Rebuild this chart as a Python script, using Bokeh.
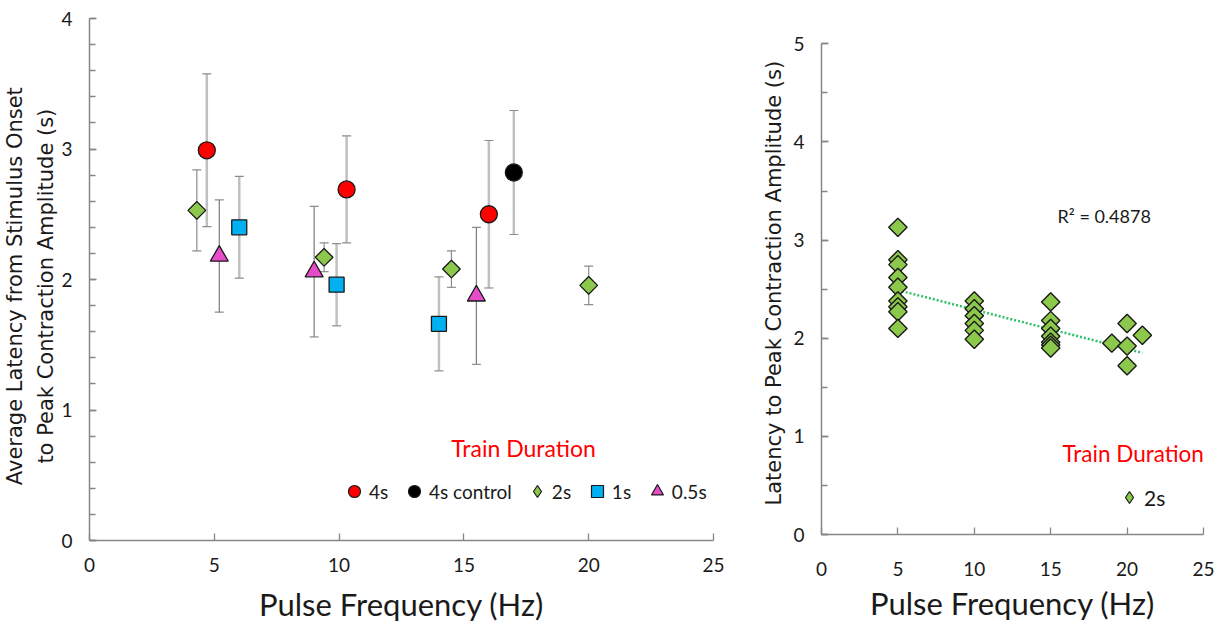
import numpy as np
from bokeh.plotting import figure
from bokeh.models import (ColumnDataSource, Whisker, TeeHead, Legend, LegendItem,
                          Label, FixedTicker, Range1d, SingleIntervalTicker)
from bokeh.layouts import row
from bokeh.embed import file_html
from bokeh.resources import INLINE

# ---------------- data: left panel (mean +/- SD) ----------------
freq_4s = [4.7, 10.3, 16.0]
lat_4s = [2.99, 2.69, 2.50]
sd_4s = [0.585, 0.41, 0.565]

freq_ctrl = [17.0]
lat_ctrl = [2.82]
sd_ctrl = [0.475]

freq_2s = [4.3, 9.4, 14.5, 20.0]
lat_2s = [2.53, 2.17, 2.08, 1.955]
sd_2s = [0.31, 0.11, 0.14, 0.147]

freq_1s = [6.0, 9.9, 14.0]
lat_1s = [2.40, 1.96, 1.66]
sd_1s = [0.39, 0.315, 0.36]

freq_05s = [5.2, 9.0, 15.5]
lat_05s = [2.18, 2.06, 1.875]
sd_05s = [0.43, 0.50, 0.525]

legend_labels = ["4s", "4s control", "2s", "1s", "0.5s"]
x_ticks = [0, 5, 10, 15, 20, 25]

# ---------------- data: right panel (2s trains) ----------------
r_freq = [5, 5, 5, 5, 5, 5, 5, 5, 5,
          10, 10, 10, 10, 10, 10,
          15, 15, 15, 15, 15, 15, 15,
          19, 20, 20, 20, 21]
r_lat = [3.13, 2.80, 2.75, 2.62, 2.52, 2.38, 2.32, 2.27, 2.10,
         2.38, 2.30, 2.23, 2.15, 2.08, 1.99,
         2.37, 2.18, 2.10, 2.02, 1.96, 1.93, 1.90,
         1.95, 2.15, 1.92, 1.72, 2.03]
r2_text = "R\u00b2 = 0.4878"

FONT = "Lato"
AXIS_COL = "#868686"
TXT_COL = "#1a1a1a"
GREEN = "#8cc84b"
NAN = float("nan")
PAD = "\u00a0\u00a0"   # nudges the rotated y titles slightly downward, as in the original


def style_axes(p, x_standoff, y_standoff, ylab_standoff, xlab_standoff):
    for ax in (p.xaxis[0], p.yaxis[0]):
        ax.axis_line_color = AXIS_COL
        ax.axis_line_width = 1.5
        ax.major_tick_line_color = AXIS_COL
        ax.major_tick_line_width = 1.3
        ax.minor_tick_line_color = AXIS_COL
        ax.minor_tick_line_width = 1.3
        ax.major_tick_in = 7
        ax.major_tick_out = 0
        ax.minor_tick_in = 6
        ax.minor_tick_out = 0
        ax.major_label_text_font = FONT
        ax.major_label_text_font_size = "19px"
        ax.major_label_text_color = TXT_COL
        ax.axis_label_text_color = TXT_COL
        ax.axis_label_text_font_style = "normal"
    p.xaxis[0].ticker = FixedTicker(ticks=x_ticks)
    p.xaxis[0].minor_tick_line_color = None
    p.xaxis[0].major_label_standoff = x_standoff
    p.xaxis[0].axis_label_text_font = FONT
    p.xaxis[0].axis_label_text_font_size = "31px"
    p.xaxis[0].axis_label_standoff = xlab_standoff
    p.yaxis[0].major_label_standoff = y_standoff
    p.yaxis[0].axis_label_text_font = "DejaVu Sans"
    p.yaxis[0].axis_label_text_font_size = "21px"
    p.yaxis[0].axis_label_text_line_height = 1.3
    p.yaxis[0].axis_label_standoff = ylab_standoff
    p.grid.visible = False
    p.outline_line_color = None


# ---------------- left figure ----------------
left = figure(frame_width=624, frame_height=522, output_backend="svg", toolbar_location=None,
              x_range=Range1d(0, 25), y_range=Range1d(0, 4),
              min_border_left=82, min_border_right=46, min_border_top=18, min_border_bottom=70,
              x_axis_label="Pulse Frequency (Hz)",
              y_axis_label="Average Latency from Stimulus Onset" + PAD +
                           "\nto Peak Contraction Amplitude (s)" + PAD)
style_axes(left, 17, 17, 0, 10)
left.yaxis[0].ticker = SingleIntervalTicker(interval=1, num_minor_ticks=5)

series = [
    (freq_4s, lat_4s, sd_4s, "circle", "#ff0000", 17, "#c0c0c0", 2.5, 0, "circle"),
    (freq_ctrl, lat_ctrl, sd_ctrl, "circle", "#000000", 17, "#c0c0c0", 2.5, 0, "circle"),
    (freq_2s, lat_2s, sd_2s, "square", GREEN, 12.5, "#8c8c8c", 1.2, np.pi / 4, "diamond"),
    (freq_1s, lat_1s, sd_1s, "square", "#00b0f0", 15, "#c0c0c0", 2.5, 0, "square"),
    (freq_05s, lat_05s, sd_05s, "triangle", "#e64bc8", 18, "#7a7a7a", 1.2, 0, "triangle"),
]

items = []
for (fx, fy, sd, mk, col, sz, ecol, ew, ang, lmk), lab in zip(series, legend_labels):
    src = ColumnDataSource(dict(x=fx, y=fy,
                                upper=[a + b for a, b in zip(fy, sd)],
                                lower=[a - b for a, b in zip(fy, sd)]))
    w = Whisker(source=src, base="x", upper="upper", lower="lower",
                line_color=ecol, line_width=ew, level="underlay",
                upper_head=TeeHead(size=9, line_color="#8c8c8c", line_width=1.2),
                lower_head=TeeHead(size=9, line_color="#8c8c8c", line_width=1.2))
    left.add_layout(w)
    left.scatter("x", "y", source=src, marker=mk, size=sz, angle=ang,
                 fill_color=col, line_color="#1a1a1a", line_width=1.3)
    # legend-only renderer (a NaN point is not drawn) so the legend shows the symbol
    lr = left.scatter(x=[NAN], y=[NAN], marker=lmk, fill_color=col,
                      line_color="#1a1a1a", line_width=1.2)
    items.append(LegendItem(label=lab, renderers=[lr]))

leg = Legend(items=items, orientation="horizontal", location=(250, 34),
             glyph_width=30, glyph_height=30, label_standoff=0, spacing=10,
             padding=0, margin=0, border_line_color=None, background_fill_alpha=0,
             label_text_font=FONT, label_text_font_size="19px", label_text_color=TXT_COL)
left.add_layout(leg, "center")

left.add_layout(Label(x=17.39, y=0.705, text="Train Duration", text_align="center",
                      text_baseline="middle", text_font=FONT, text_font_size="23px",
                      text_color="#ff0000"))

# ---------------- right figure ----------------
# frame top shares the left frame's top; the y axis itself is bounded to 0..5
right = figure(frame_width=382, frame_height=516, output_backend="svg", toolbar_location=None,
               x_range=Range1d(0, 25), y_range=Range1d(0, 5.258),
               min_border_left=61, min_border_right=11, min_border_top=18, min_border_bottom=76,
               x_axis_label="Pulse Frequency (Hz)",
               y_axis_label="Latency to Peak Contraction Amplitude (s)" + PAD)
style_axes(right, 27, 17, 4, 5)
right.yaxis[0].ticker = SingleIntervalTicker(interval=1, num_minor_ticks=2)
right.yaxis[0].bounds = (0, 5)

# linear trend line computed from the data
slope, icpt = np.polyfit(r_freq, r_lat, 1)
tx = [min(r_freq), max(r_freq)]
ty = [slope * v + icpt for v in tx]
right.line(tx, ty, line_color="#2fbf66", line_width=2.5, line_dash="2 2")

rsrc = ColumnDataSource(dict(x=r_freq, y=r_lat))
right.scatter("x", "y", source=rsrc, marker="square", angle=np.pi / 4, size=13,
              fill_color=GREEN, line_color="#1a1a1a", line_width=1.4)
rl = right.scatter(x=[NAN], y=[NAN], marker="diamond", fill_color=GREEN,
                   line_color="#1a1a1a", line_width=1.2)

leg2 = Legend(items=[LegendItem(label="2s", renderers=[rl])], orientation="horizontal",
              location=(293, 22), glyph_width=30, glyph_height=30, label_standoff=0,
              padding=0, margin=0, border_line_color=None, background_fill_alpha=0,
              label_text_font=FONT, label_text_font_size="21px", label_text_color=TXT_COL)
right.add_layout(leg2, "center")

right.add_layout(Label(x=20.4, y=0.83, text="Train Duration", text_align="center",
                       text_baseline="middle", text_font=FONT, text_font_size="22.5px",
                       text_color="#ff0000"))
right.add_layout(Label(x=18.5, y=3.25, text=r2_text, text_align="center",
                       text_baseline="middle", text_font=FONT, text_font_size="18px",
                       text_color=TXT_COL))

layout = row(left, right)
open("out.html", "w").write(file_html(layout, INLINE))
